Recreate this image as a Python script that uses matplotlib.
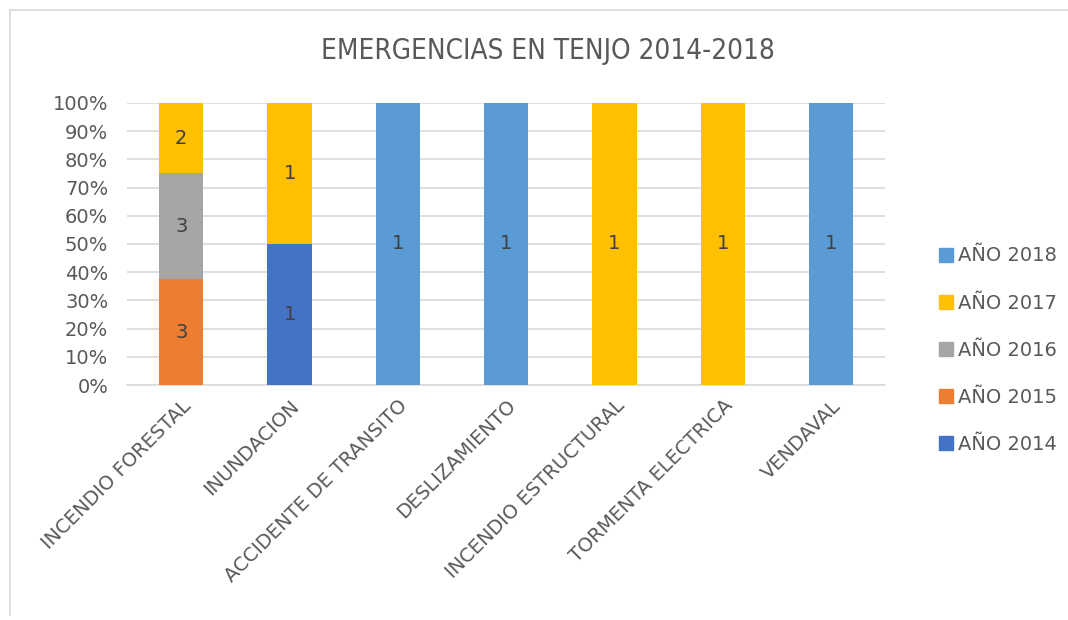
import matplotlib.pyplot as plt
import numpy as np
from matplotlib.lines import Line2D

plt.rcParams['font.family'] = ['DejaVu Sans']

categories = ['INCENDIO FORESTAL', 'INUNDACION', 'ACCIDENTE DE TRANSITO',
              'DESLIZAMIENTO', 'INCENDIO ESTRUCTURAL', 'TORMENTA ELECTRICA',
              'VENDAVAL']
years = ['AÑO 2014', 'AÑO 2015', 'AÑO 2016', 'AÑO 2017', 'AÑO 2018']
counts_2014 = [0, 1, 0, 0, 0, 0, 0]
counts_2015 = [3, 0, 0, 0, 0, 0, 0]
counts_2016 = [3, 0, 0, 0, 0, 0, 0]
counts_2017 = [2, 1, 0, 0, 1, 1, 0]
counts_2018 = [0, 0, 1, 1, 0, 0, 1]
colors = ['#4472C4', '#ED7D31', '#A5A5A5', '#FFC000', '#5B9BD5']

TEXT = '#595959'

series = np.array([counts_2014, counts_2015, counts_2016, counts_2017,
                   counts_2018], dtype=float)
totals = series.sum(axis=0)
pct = series / totals * 100

fig = plt.figure(figsize=(10.68, 6.2), dpi=100)
ax = fig.add_axes([0.119, 0.379, 0.71, 0.455])

x = np.arange(len(categories))
bottom = np.zeros(len(categories))
for i, year in enumerate(years):
    ax.bar(x, pct[i], bottom=bottom, width=0.41, color=colors[i],
           zorder=3, label=year)
    for j in range(len(categories)):
        if series[i, j] > 0:
            ax.text(x[j], bottom[j] + pct[i, j] / 2, f'{int(series[i, j])}',
                    ha='center', va='center', fontsize=14, color='#404040',
                    zorder=4)
    bottom += pct[i]

ax.set_xlim(-0.5, len(categories) - 0.5)
ax.set_ylim(0, 100)
ax.set_yticks(np.arange(0, 101, 10))
ax.set_yticklabels([f'{v}%' for v in range(0, 101, 10)])
ax.yaxis.grid(True, color='#D9D9D9', linewidth=1.2, zorder=0)
for s in ['top', 'right', 'left']:
    ax.spines[s].set_visible(False)
ax.spines['bottom'].set_color('#D9D9D9')
ax.spines['bottom'].set_linewidth(1.2)
ax.tick_params(axis='both', length=0, labelsize=14, labelcolor=TEXT)
ax.tick_params(axis='y', pad=13.5)
ax.set_xticks(x)
ax.set_xticklabels(categories, rotation=45, ha='right',
                   rotation_mode='anchor')
ax.tick_params(axis='x', pad=8)

fig.text(0.513, 0.918, 'EMERGENCIAS EN TENJO 2014-2018', ha='center',
         va='center', fontsize=20, color=TEXT, fontstretch='condensed')

handles = [Line2D([0], [0], marker='s', linestyle='', markersize=10,
                  markerfacecolor=colors[i], markeredgecolor=colors[i])
           for i in range(len(years))][::-1]
fig.legend(handles, years[::-1], loc='center left',
           bbox_to_anchor=(0.862, 0.435), frameon=False, fontsize=14,
           labelcolor=TEXT, handletextpad=0.2, labelspacing=1.45,
           handlelength=0.8)

# outer chart frame
fig.add_artist(Line2D([0.0094, 0.0094], [0.008, 0.984], color='#D9D9D9',
                      linewidth=1.2, transform=fig.transFigure))
fig.add_artist(Line2D([0.0094, 1.0], [0.984, 0.984], color='#D9D9D9',
                      linewidth=1.2, transform=fig.transFigure))

fig.savefig('out.png', dpi=100)
